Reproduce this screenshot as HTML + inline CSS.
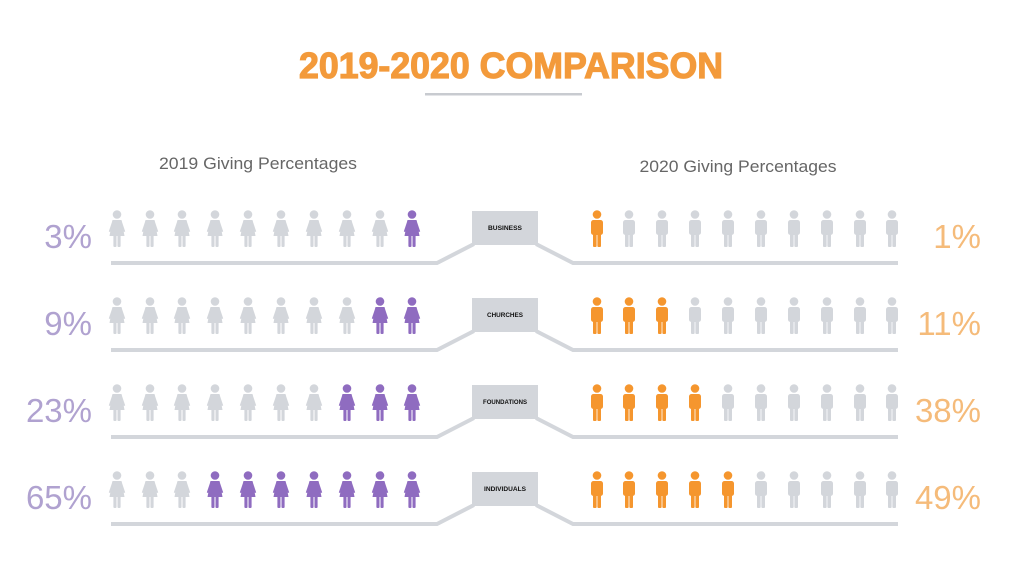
<!DOCTYPE html>
<html>
<head>
<meta charset="utf-8">
<style>
  html,body{margin:0;padding:0;background:#ffffff;}
  body{width:1024px;height:576px;overflow:hidden;}
  svg{display:block;}
</style>
</head>
<body>
<svg width="1024" height="576" viewBox="0 0 1024 576" xmlns="http://www.w3.org/2000/svg">
  <defs>
    <g id="male">
      <circle cx="0" cy="4.5" r="4.3"/>
      <rect x="-6" y="10" width="12" height="15" rx="2.5"/>
      <rect x="-4" y="23" width="3.6" height="14" rx="1"/>
      <rect x="0.4" y="23" width="3.6" height="14" rx="1"/>
    </g>
    <g id="female">
      <circle cx="0" cy="4.5" r="4.3"/>
      <path d="M-4.5,10 L4.5,10 L7.5,26 L-7.5,26 Z"/>
      <path d="M-4.5,10.5 L-8.2,21.5 L-6.8,22 L-3.5,12 Z"/>
      <path d="M4.5,10.5 L8.2,21.5 L6.8,22 L3.5,12 Z"/>
      <rect x="-3.6" y="25" width="3.1" height="12" rx="1"/>
      <rect x="0.5" y="25" width="3.1" height="12" rx="1"/>
    </g>
  </defs>

  <!-- Title -->
  <text x="511" y="78" text-anchor="middle" font-family="Liberation Sans, sans-serif" font-weight="bold" font-size="36" fill="#f39a3b" stroke="#f39a3b" stroke-width="1.2" textLength="424" lengthAdjust="spacingAndGlyphs">2019-2020 COMPARISON</text>
  <rect x="425" y="93" width="157" height="2.5" fill="#c8cbd0"/>

  <!-- Headers -->
  <text x="258" y="169" text-anchor="middle" font-family="Liberation Sans, sans-serif" font-size="17" fill="#666" textLength="198" lengthAdjust="spacingAndGlyphs">2019 Giving Percentages</text>
  <text x="738" y="172" text-anchor="middle" font-family="Liberation Sans, sans-serif" font-size="17" fill="#666" textLength="197" lengthAdjust="spacingAndGlyphs">2020 Giving Percentages</text>

  <!-- Row 1 -->
  <g>
    <polyline points="111,263 437,263 474,244" fill="none" stroke="#d3d6db" stroke-width="4"/>
    <polyline points="536,244 573,263 898,263" fill="none" stroke="#d3d6db" stroke-width="4"/>
    <rect x="472" y="211" width="66" height="34" fill="#d3d6db"/>
    <text x="505" y="230" text-anchor="middle" font-family="Liberation Sans, sans-serif" font-weight="bold" font-size="6" fill="#111" textLength="34" lengthAdjust="spacingAndGlyphs">BUSINESS</text>
    <text x="92" y="248" text-anchor="end" font-family="Liberation Sans, sans-serif" font-size="33" fill="#b0a2d0">3%</text>
    <text x="981" y="248" text-anchor="end" font-family="Liberation Sans, sans-serif" font-size="33" fill="#f5bb7a">1%</text>
    <g fill="#d3d6db">
      <use href="#female" x="117" y="210"/><use href="#female" x="150" y="210"/><use href="#female" x="182" y="210"/><use href="#female" x="215" y="210"/><use href="#female" x="248" y="210"/><use href="#female" x="281" y="210"/><use href="#female" x="314" y="210"/><use href="#female" x="347" y="210"/><use href="#female" x="380" y="210"/>
    </g>
    <g fill="#8f6cc0"><use href="#female" x="412" y="210"/></g>
    <g fill="#f5962e"><use href="#male" x="597" y="210"/></g>
    <g fill="#d3d6db">
      <use href="#male" x="629" y="210"/><use href="#male" x="662" y="210"/><use href="#male" x="695" y="210"/><use href="#male" x="728" y="210"/><use href="#male" x="761" y="210"/><use href="#male" x="794" y="210"/><use href="#male" x="827" y="210"/><use href="#male" x="860" y="210"/><use href="#male" x="892" y="210"/>
    </g>
  </g>

  <!-- Row 2 -->
  <g>
    <polyline points="111,350 437,350 474,331" fill="none" stroke="#d3d6db" stroke-width="4"/>
    <polyline points="536,331 573,350 898,350" fill="none" stroke="#d3d6db" stroke-width="4"/>
    <rect x="472" y="298" width="66" height="34" fill="#d3d6db"/>
    <text x="505" y="317" text-anchor="middle" font-family="Liberation Sans, sans-serif" font-weight="bold" font-size="6" fill="#111" textLength="36" lengthAdjust="spacingAndGlyphs">CHURCHES</text>
    <text x="92" y="335" text-anchor="end" font-family="Liberation Sans, sans-serif" font-size="33" fill="#b0a2d0">9%</text>
    <text x="981" y="335" text-anchor="end" font-family="Liberation Sans, sans-serif" font-size="33" fill="#f5bb7a">11%</text>
    <g fill="#d3d6db">
      <use href="#female" x="117" y="297"/><use href="#female" x="150" y="297"/><use href="#female" x="182" y="297"/><use href="#female" x="215" y="297"/><use href="#female" x="248" y="297"/><use href="#female" x="281" y="297"/><use href="#female" x="314" y="297"/><use href="#female" x="347" y="297"/>
    </g>
    <g fill="#8f6cc0"><use href="#female" x="380" y="297"/><use href="#female" x="412" y="297"/></g>
    <g fill="#f5962e"><use href="#male" x="597" y="297"/><use href="#male" x="629" y="297"/><use href="#male" x="662" y="297"/></g>
    <g fill="#d3d6db">
      <use href="#male" x="695" y="297"/><use href="#male" x="728" y="297"/><use href="#male" x="761" y="297"/><use href="#male" x="794" y="297"/><use href="#male" x="827" y="297"/><use href="#male" x="860" y="297"/><use href="#male" x="892" y="297"/>
    </g>
  </g>

  <!-- Row 3 -->
  <g>
    <polyline points="111,437 437,437 474,418" fill="none" stroke="#d3d6db" stroke-width="4"/>
    <polyline points="536,418 573,437 898,437" fill="none" stroke="#d3d6db" stroke-width="4"/>
    <rect x="472" y="385" width="66" height="34" fill="#d3d6db"/>
    <text x="505" y="404" text-anchor="middle" font-family="Liberation Sans, sans-serif" font-weight="bold" font-size="6" fill="#111" textLength="44" lengthAdjust="spacingAndGlyphs">FOUNDATIONS</text>
    <text x="92" y="422" text-anchor="end" font-family="Liberation Sans, sans-serif" font-size="33" fill="#b0a2d0">23%</text>
    <text x="981" y="422" text-anchor="end" font-family="Liberation Sans, sans-serif" font-size="33" fill="#f5bb7a">38%</text>
    <g fill="#d3d6db">
      <use href="#female" x="117" y="384"/><use href="#female" x="150" y="384"/><use href="#female" x="182" y="384"/><use href="#female" x="215" y="384"/><use href="#female" x="248" y="384"/><use href="#female" x="281" y="384"/><use href="#female" x="314" y="384"/>
    </g>
    <g fill="#8f6cc0"><use href="#female" x="347" y="384"/><use href="#female" x="380" y="384"/><use href="#female" x="412" y="384"/></g>
    <g fill="#f5962e"><use href="#male" x="597" y="384"/><use href="#male" x="629" y="384"/><use href="#male" x="662" y="384"/><use href="#male" x="695" y="384"/></g>
    <g fill="#d3d6db">
      <use href="#male" x="728" y="384"/><use href="#male" x="761" y="384"/><use href="#male" x="794" y="384"/><use href="#male" x="827" y="384"/><use href="#male" x="860" y="384"/><use href="#male" x="892" y="384"/>
    </g>
  </g>

  <!-- Row 4 -->
  <g>
    <polyline points="111,524 437,524 474,505" fill="none" stroke="#d3d6db" stroke-width="4"/>
    <polyline points="536,505 573,524 898,524" fill="none" stroke="#d3d6db" stroke-width="4"/>
    <rect x="472" y="472" width="66" height="34" fill="#d3d6db"/>
    <text x="505" y="491" text-anchor="middle" font-family="Liberation Sans, sans-serif" font-weight="bold" font-size="6" fill="#111" textLength="42" lengthAdjust="spacingAndGlyphs">INDIVIDUALS</text>
    <text x="92" y="509" text-anchor="end" font-family="Liberation Sans, sans-serif" font-size="33" fill="#b0a2d0">65%</text>
    <text x="981" y="509" text-anchor="end" font-family="Liberation Sans, sans-serif" font-size="33" fill="#f5bb7a">49%</text>
    <g fill="#d3d6db">
      <use href="#female" x="117" y="471"/><use href="#female" x="150" y="471"/><use href="#female" x="182" y="471"/>
    </g>
    <g fill="#8f6cc0"><use href="#female" x="215" y="471"/><use href="#female" x="248" y="471"/><use href="#female" x="281" y="471"/><use href="#female" x="314" y="471"/><use href="#female" x="347" y="471"/><use href="#female" x="380" y="471"/><use href="#female" x="412" y="471"/></g>
    <g fill="#f5962e"><use href="#male" x="597" y="471"/><use href="#male" x="629" y="471"/><use href="#male" x="662" y="471"/><use href="#male" x="695" y="471"/><use href="#male" x="728" y="471"/></g>
    <g fill="#d3d6db">
      <use href="#male" x="761" y="471"/><use href="#male" x="794" y="471"/><use href="#male" x="827" y="471"/><use href="#male" x="860" y="471"/><use href="#male" x="892" y="471"/>
    </g>
  </g>
</svg>
</body>
</html>
